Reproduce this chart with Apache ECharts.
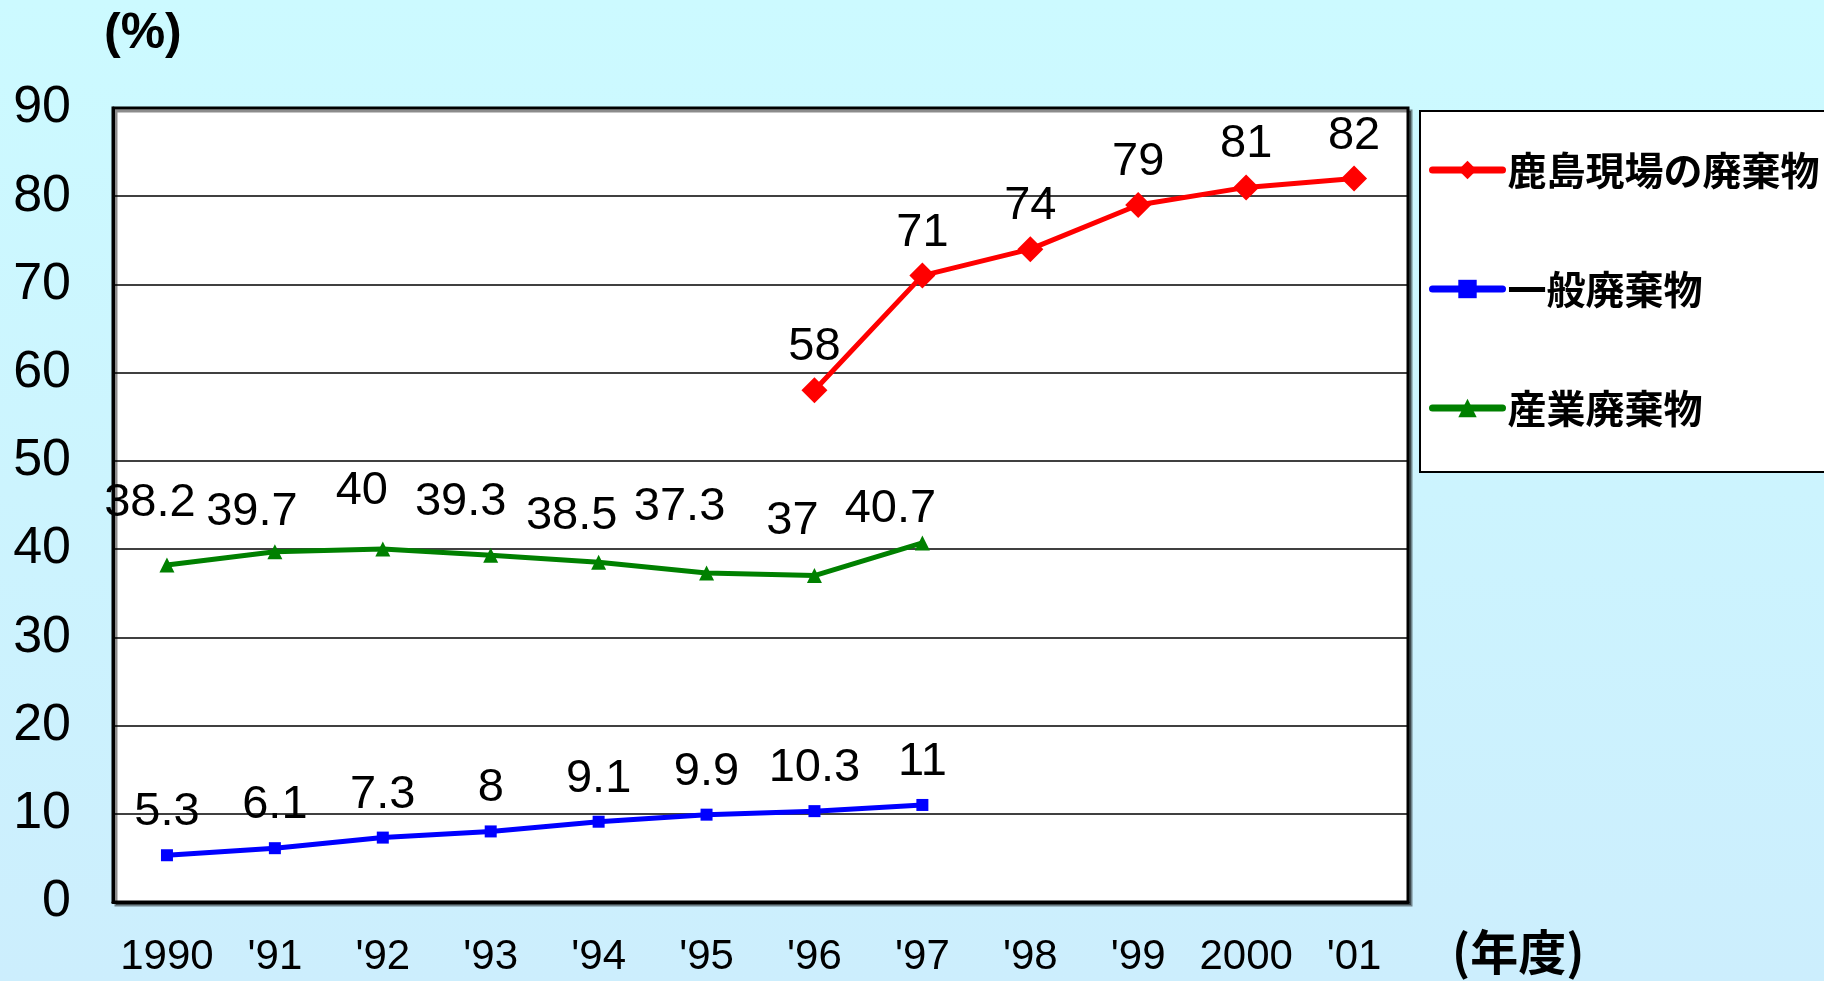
<!DOCTYPE html>
<html>
<head>
<meta charset="utf-8">
<script src="https://cdn.jsdelivr.net/npm/echarts@6/dist/echarts.min.js"></script>
<style>
html,body{margin:0;padding:0;width:1824px;height:981px;overflow:hidden;}
#chart{width:1824px;height:981px;}
</style>
</head>
<body>
<div id="chart"></div>
<script>
// ---- data ----
var categories = ['1990', "'91", "'92", "'93", "'94", "'95", "'96", "'97", "'98", "'99", '2000', "'01"];
var seriesNames = ['鹿島現場の廃棄物', '一般廃棄物', '産業廃棄物'];
var kashimaValues = [null, null, null, null, null, null, 58, 71, 74, 79, 81, 82];
var generalValues = [5.3, 6.1, 7.3, 8, 9.1, 9.9, 10.3, 11, null, null, null, null];
var industrialValues = [38.2, 39.7, 40, 39.3, 38.5, 37.3, 37, 40.7, null, null, null, null];
var yTicks = [0, 10, 20, 30, 40, 50, 60, 70, 80, 90];
var yUnitLabel = '(%)';
var xUnitLabel = '(年度)';

// ---- styling (label placement for the manually placed labels of the industrial series) ----
var industrialLabelOffsets = [[-17, -62], [-23, -40], [-21, -58], [-30, -53], [-27, -46], [-27, -66], [-22, -55], [-32, -34]];

var numFont = "'Liberation Sans', Arial, sans-serif";
var cjkFont = "'Noto Sans CJK JP', 'Noto Sans', sans-serif";

function labelled(values, offsets) {
  return values.map(function (v, i) {
    if (v === null) return '-';
    var item = { value: v };
    if (offsets && offsets[i]) item.label = { offset: offsets[i] };
    return item;
  });
}

var baseLabel = {
  show: true,
  position: 'inside',
  offset: [0, -43],
  color: '#000',
  fontFamily: numFont,
  fontSize: 47,
  formatter: function (p) { return p.value; }
};

var chart = echarts.init(document.getElementById('chart'), null, { renderer: 'canvas' });
chart.setOption({
  animation: false,
  backgroundColor: {
    type: 'linear', x: 0, y: 0, x2: 0, y2: 1,
    colorStops: [{ offset: 0, color: '#CCFAFF' }, { offset: 1, color: '#CCEEFD' }]
  },
  grid: {
    left: 113, right: 416, top: 108, bottom: 79,
    show: true, backgroundColor: '#FFFFFF', borderColor: '#000', borderWidth: 3,
    shadowColor: 'rgba(0,0,0,0.45)', shadowOffsetX: 3, shadowOffsetY: 3, shadowBlur: 0
  },
  graphic: [
    { type: 'rect', left: 1419, top: 110, shape: { width: 520, height: 361 },
      style: { fill: '#FFFFFF', stroke: '#000', lineWidth: 2 }, z: 0 },
    { type: 'text', left: 104, top: 9, style: { text: yUnitLabel, font: "bold 50px " + numFont, fill: '#000' } },
    { type: 'text', left: 1452, top: 928, style: { text: xUnitLabel, font: "bold 48px " + cjkFont, fill: '#000' } }
  ],
  legend: {
    orient: 'vertical', left: 1424, top: 145,
    itemWidth: 70, itemHeight: 23, itemGap: 79,
    data: seriesNames,
    lineStyle: { width: 7, cap: 'round' },
    textStyle: { fontFamily: cjkFont, fontWeight: 'bold', fontSize: 39, color: '#000', lineHeight: 40 },
    z: 5
  },
  xAxis: {
    type: 'category', data: categories, boundaryGap: true,
    axisLine: { lineStyle: { color: '#000', width: 3 } },
    axisTick: { inside: true, length: 14, lineStyle: { color: '#444', width: 1.5 } },
    axisLabel: { margin: 34, color: '#000', fontFamily: numFont, fontSize: 42, interval: 0 },
    splitLine: { show: false }
  },
  yAxis: {
    type: 'value', min: yTicks[0], max: yTicks[yTicks.length - 1], interval: 10,
    axisLine: { show: true, lineStyle: { color: '#000', width: 3 } },
    axisTick: { show: false },
    axisLabel: { margin: 42, color: '#000', fontFamily: numFont, fontSize: 52 },
    splitLine: { lineStyle: { color: '#000', width: 1.5 } }
  },
  series: [
    { name: seriesNames[0], type: 'line', data: labelled(kashimaValues),
      symbol: 'diamond', symbolSize: 26, itemStyle: { color: '#FF0000' },
      lineStyle: { color: '#FF0000', width: 5 }, label: baseLabel, z: 4 },
    { name: seriesNames[1], type: 'line', data: labelled(generalValues),
      symbol: 'rect', symbolSize: 12, itemStyle: { color: '#0000FF' },
      lineStyle: { color: '#0000FF', width: 5 }, label: baseLabel, z: 3 },
    { name: seriesNames[2], type: 'line', data: labelled(industrialValues, industrialLabelOffsets),
      symbol: 'triangle', symbolSize: 15, itemStyle: { color: '#008000' },
      lineStyle: { color: '#008000', width: 5 }, label: baseLabel, z: 3 }
  ]
});
</script>
</body>
</html>
